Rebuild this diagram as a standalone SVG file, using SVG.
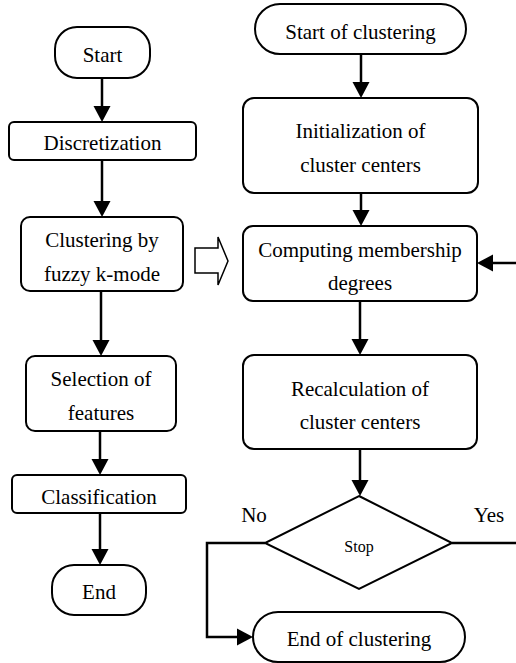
<svg xmlns="http://www.w3.org/2000/svg" width="516" height="663" viewBox="0 0 516 663">
  <defs>
    <marker id="head" markerUnits="userSpaceOnUse" markerWidth="18" markerHeight="20" viewBox="0 -10 18 20" refX="0" refY="0" orient="auto">
      <path d="M0,-8.5 L16,0 L0,8.5 Z" fill="#000"/>
    </marker>
  </defs>
  <rect width="516" height="663" fill="#fff"/>

  <!-- node outlines share one look; labels share one font -->
  <g font-family="Liberation Serif" font-size="21" text-anchor="middle" fill="#000">

    <!-- left column: overall process -->
    <g id="start">
      <rect x="55" y="27" width="95" height="51" rx="22" fill="#fff" stroke="#000" stroke-width="2"/>
      <text x="102.5" y="62" style="font-family:'Liberation Serif',serif">Start</text>
    </g>
    <g id="discretization">
      <rect x="9" y="122" width="187" height="38" rx="5" fill="#fff" stroke="#000" stroke-width="2"/>
      <text x="102.5" y="150" style="font-family:'Liberation Serif',serif">Discretization</text>
    </g>
    <g id="clustering">
      <rect x="21" y="217" width="162" height="74" rx="9" fill="#fff" stroke="#000" stroke-width="2"/>
      <text x="102" y="247" style="font-family:'Liberation Serif',serif">Clustering by</text>
      <text x="102" y="281" style="font-family:'Liberation Serif',serif">fuzzy k-mode</text>
    </g>
    <g id="selection">
      <rect x="26" y="356" width="150" height="75" rx="9" fill="#fff" stroke="#000" stroke-width="2"/>
      <text x="101" y="386" style="font-family:'Liberation Serif',serif">Selection of</text>
      <text x="101" y="420" style="font-family:'Liberation Serif',serif">features</text>
    </g>
    <g id="classification">
      <rect x="12" y="475" width="174" height="38" rx="5" fill="#fff" stroke="#000" stroke-width="2"/>
      <text x="99" y="504" style="font-family:'Liberation Serif',serif">Classification</text>
    </g>
    <g id="end">
      <rect x="52" y="565" width="94" height="50" rx="22" fill="#fff" stroke="#000" stroke-width="2"/>
      <text x="99" y="599" style="font-family:'Liberation Serif',serif">End</text>
    </g>

    <!-- right column: clustering detail -->
    <g id="start-clustering">
      <rect x="255" y="4" width="211" height="50" rx="25" fill="#fff" stroke="#000" stroke-width="2"/>
      <text x="360.5" y="39" style="font-family:'Liberation Serif',serif">Start of clustering</text>
    </g>
    <g id="init-centers">
      <rect x="243" y="98" width="235" height="95" rx="11" fill="#fff" stroke="#000" stroke-width="2"/>
      <text x="360.5" y="138" style="font-family:'Liberation Serif',serif">Initialization of</text>
      <text x="360.5" y="172" style="font-family:'Liberation Serif',serif">cluster centers</text>
    </g>
    <g id="membership">
      <rect x="243" y="226" width="234" height="75" rx="10" fill="#fff" stroke="#000" stroke-width="2"/>
      <text x="360" y="257" style="font-family:'Liberation Serif',serif">Computing membership</text>
      <text x="360" y="290" style="font-family:'Liberation Serif',serif">degrees</text>
    </g>
    <g id="recalc-centers">
      <rect x="243" y="355" width="234" height="94" rx="11" fill="#fff" stroke="#000" stroke-width="2"/>
      <text x="360" y="396" style="font-family:'Liberation Serif',serif">Recalculation of</text>
      <text x="360" y="429" style="font-family:'Liberation Serif',serif">cluster centers</text>
    </g>
    <g id="stop">
      <polygon points="359,496 452,543 359,589 265,543" fill="#fff" stroke="#000" stroke-width="2"/>
      <text x="359" y="552" font-size="16" style="font-family:'Liberation Serif',serif">Stop</text>
    </g>
    <g id="end-clustering">
      <rect x="253" y="612" width="212" height="50" rx="25" fill="#fff" stroke="#000" stroke-width="2"/>
      <text x="359" y="646" style="font-family:'Liberation Serif',serif">End of clustering</text>
    </g>

    <!-- connectors -->
    <g id="connectors">
      <g fill="none" stroke="#000" stroke-width="2.5">
        <line x1="102" y1="78" x2="102" y2="106" marker-end="url(#head)"/>
        <line x1="102" y1="160" x2="102" y2="201" marker-end="url(#head)"/>
        <line x1="101" y1="291" x2="101" y2="340" marker-end="url(#head)"/>
        <line x1="100" y1="431" x2="100" y2="459" marker-end="url(#head)"/>
        <line x1="100" y1="513" x2="100" y2="549" marker-end="url(#head)"/>
        <line x1="361" y1="54" x2="361" y2="82" marker-end="url(#head)"/>
        <line x1="361" y1="193" x2="361" y2="210" marker-end="url(#head)"/>
        <line x1="360" y1="301" x2="360" y2="339" marker-end="url(#head)"/>
        <line x1="360" y1="449" x2="360" y2="480" marker-end="url(#head)"/>
        <line x1="516" y1="263" x2="493" y2="263" marker-end="url(#head)"/>
        <line x1="452" y1="543" x2="516" y2="543"/>
        <polyline points="265,543 207,543 207,637 237,637" marker-end="url(#head)"/>
      </g>
      <!-- hollow block arrow between the two columns -->
      <polygon points="195,248 218,248 218,237 228,261 218,285 218,273 195,273" fill="#fff" stroke="#000" stroke-width="1.5"/>
      <text x="254" y="522" style="font-family:'Liberation Serif',serif">No</text>
      <text x="489" y="522" style="font-family:'Liberation Serif',serif">Yes</text>
    </g>
  </g>
</svg>
